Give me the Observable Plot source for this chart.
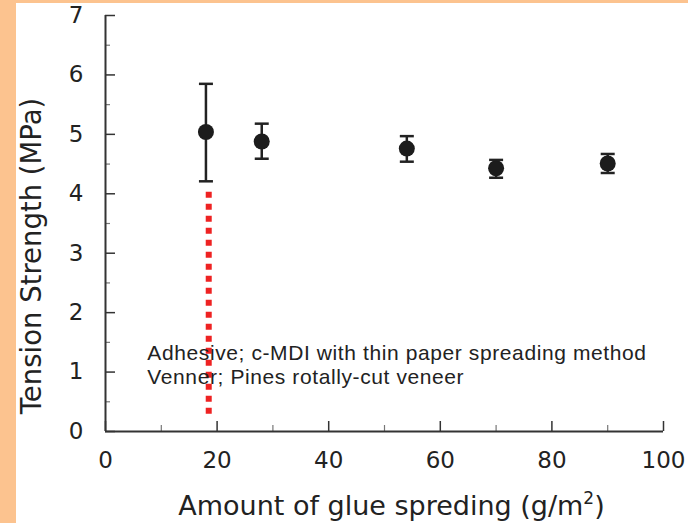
<!DOCTYPE html>
<html><head><meta charset="utf-8">
<script src="https://cdn.jsdelivr.net/npm/d3@7"></script>
<script src="https://cdn.jsdelivr.net/npm/@observablehq/plot@0.6"></script>
<style>
html,body{margin:0;padding:0;background:#fcc38f;width:688px;height:523px;overflow:hidden;}
#chart{position:absolute;left:16px;top:3px;width:672px;height:520px;background:#fff;}
#chart svg{display:block;}
</style></head><body><div id="chart"></div>
<script>
// Data
const glue = [18, 28, 54, 70, 90];               // g/m2
const strength = [5.04, 4.88, 4.76, 4.43, 4.51]; // MPa (mean)
const errLow = [4.21, 4.59, 4.54, 4.27, 4.35];
const errHigh = [5.85, 5.18, 4.97, 4.57, 4.67];

const markerX = [18.5];      // red dotted guide line
const markerLow = [0.29];
const markerHigh = [4.12];

const xTicks = [0, 20, 40, 60, 80, 100];
const xMinor = [10, 30, 50, 70, 90];
const yTicks = [0, 1, 2, 3, 4, 5, 6, 7];
const yMinor = [0.5, 1.5, 2.5, 3.5, 4.5, 5.5, 6.5];

const notes = ["Adhesive; c-MDI with thin paper spreading method", "Venner; Pines rotally-cut veneer"];
const xTitle = "Amount of glue spreding (g/m2)";
const yTitle = "Tension Strength (MPa)";

const rows = glue.map((x, i) => ({x, y: strength[i], lo: errLow[i], hi: errHigh[i]}));
const marker = markerX.map((x, i) => ({x, lo: markerLow[i], hi: markerHigh[i]}));

const capSymbol = {draw(ctx, size) { const w = Math.sqrt(size / Math.PI); ctx.moveTo(-w, 0); ctx.lineTo(w, 0); }};

const axisFont = "DejaVu Sans";
const plot = Plot.plot({
  width: 672, height: 520,
  marginLeft: 89, marginRight: 25, marginTop: 12, marginBottom: 92,
  style: {fontFamily: axisFont, background: "#fff", overflow: "visible"},
  x: {domain: [0, 100], label: null},
  y: {domain: [0, 7], label: null},
  marks: [
    // minor ticks
    Plot.axisX({ticks: xMinor, tickSize: -6, tickFormat: () => "", stroke: "#777", strokeWidth: 1.2, label: null}),
    Plot.axisY({ticks: yMinor, tickSize: -5, tickFormat: () => "", stroke: "#777", strokeWidth: 1.2, label: null}),
    // major ticks
    Plot.axisX({ticks: xTicks, tickSize: -10, tickFormat: () => "", stroke: "#333", strokeWidth: 1.5, label: null}),
    Plot.axisY({ticks: yTicks, tickSize: -10, tickFormat: () => "", stroke: "#333", strokeWidth: 1.5, label: null}),
    // tick labels
    Plot.axisX({ticks: xTicks, tickSize: 0, tickPadding: 20, tickFormat: d3.format("d"), fontSize: 23, fill: "#222", label: null}),
    Plot.axisY({ticks: yTicks, tickSize: 0, tickPadding: 22, tickFormat: d3.format("d"), fontSize: 23, fill: "#222", label: null}),
    // axis lines
    Plot.ruleX([0], {stroke: "#333", strokeWidth: 2}),
    Plot.ruleY([0], {stroke: "#333", strokeWidth: 2}),
    // red dotted guide
    Plot.ruleX(marker, {x: "x", y1: "lo", y2: "hi", stroke: "#ee2222", strokeWidth: 6, strokeDasharray: "6,6"}),
    // error bars
    Plot.ruleX(rows, {x: "x", y1: "lo", y2: "hi", stroke: "#222", strokeWidth: 2.5}),
    Plot.dot(rows, {x: "x", y: "lo", symbol: capSymbol, r: 7, stroke: "#222", strokeWidth: 2.5, fill: "none"}),
    Plot.dot(rows, {x: "x", y: "hi", symbol: capSymbol, r: 7, stroke: "#222", strokeWidth: 2.5, fill: "none"}),
    // means
    Plot.dot(rows, {x: "x", y: "y", r: 8, fill: "#1c1c1c", stroke: null}),
    // annotation
    Plot.text(notes, {x: () => 7.5, y: (d, i) => 1.31 - 0.4 * i, text: d => d, textAnchor: "start", lineAnchor: "middle",
      fontFamily: "Liberation Sans", fontSize: 21, fill: "#222", className: "note"}),
    // axis titles
    Plot.text([xTitle], {frameAnchor: "bottom", text: d => d, dy: 75, dx: 7, textAnchor: "middle", lineAnchor: "middle", fontSize: 27, fill: "#222", className: "xtitle"}),
    Plot.text([yTitle], {frameAnchor: "left", text: d => d, rotate: -90, dx: -73, dy: 32.5, textAnchor: "middle", lineAnchor: "middle", fontSize: 27.5, fill: "#222"})
  ]
});
document.getElementById("chart").appendChild(plot);
d3.select(plot).selectAll("g.note text").style("letter-spacing", "0.6px");
// superscript in the x title
d3.select(plot).selectAll("g.xtitle text").each(function() {
  const t = d3.select(this);
  const s = t.text();
  const m = s.match(/^(.*m)2(\))$/);
  if (m) {
    t.text(null);
    t.append("tspan").text(m[1]);
    t.append("tspan").attr("font-size", "17px").attr("dy", "-11").text("2");
    t.append("tspan").attr("dy", "11").text(m[2]);
  }
});
</script></body></html>
